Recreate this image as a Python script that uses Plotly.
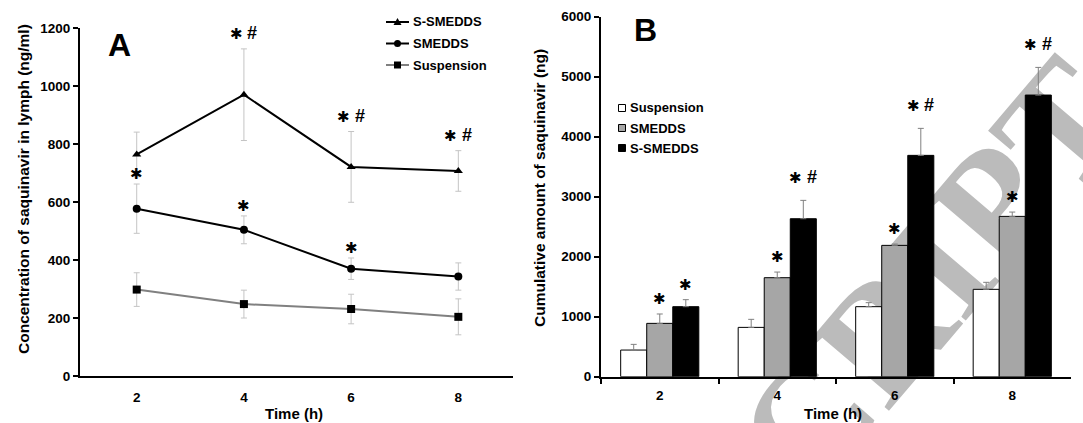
import plotly.graph_objects as go

W, H = 1083, 423
FONT = "Arial, Liberation Sans, sans-serif"

# ---- data -------------------------------------------------------------
times = [2, 4, 6, 8]
time_labels = ["2", "4", "6", "8"]

# Panel A: saquinavir concentration in lymph (ng/ml), mean and SD
conc_s_smedds = [764, 970, 721, 707]
conc_s_smedds_sd = [77, 158, 122, 70]
conc_smedds = [577, 504, 370, 343]
conc_smedds_sd = [85, 48, 37, 47]
conc_susp = [298, 248, 231, 204]
conc_susp_sd = [58, 48, 51, 62]

# Panel B: cumulative amount of saquinavir (ng), mean and SD
cum_susp = [444, 822, 1167, 1456]
cum_susp_sd = [95, 134, 67, 117]
cum_smedds = [889, 1650, 2189, 2672]
cum_smedds_sd = [156, 94, 22, 72]
cum_s_smedds = [1167, 2633, 3689, 4694]
cum_s_smedds_sd = [117, 306, 450, 461]

# significance marks per time point
sig_a_smedds = ["*", "*", "*", ""]
sig_a_s_smedds = ["", "*#", "*#", "*#"]
sig_b_smedds = ["*", "*", "*", "*"]
sig_b_s_smedds = ["*", "*#", "*#", "*#"]

series_names = ["Suspension", "SMEDDS", "S-SMEDDS"]

# ---- geometry helpers ---------------------------------------------------
def fx(x):
    return x / W


def fy(y):
    return 1 - y / H


BARGAP = 0.335
bar_w = (1 - BARGAP) / 3  # width of one bar in category units

fig = go.Figure()

# ---- panel A: lines with SD error bars ------------------------------------
line_specs = [
    (conc_susp, conc_susp_sd, "#808080", "square", 8),
    (conc_smedds, conc_smedds_sd, "black", "circle", 8),
    (conc_s_smedds, conc_s_smedds_sd, "black", "triangle-up", 8),
]
for (vals, sd, col, sym, size), name in zip(line_specs, series_names):
    fig.add_trace(go.Scatter(
        x=times, y=vals, name=name, mode="lines+markers",
        line=dict(color=col, width=2),
        marker=dict(symbol=sym, size=size, color="black"),
        error_y=dict(type="data", array=sd, color="#c4c4c4", thickness=1, width=3),
        xaxis="x", yaxis="y", showlegend=False,
    ))

# ---- panel B: grouped bars, upper SD only -----------------------------------
bar_specs = [
    (cum_susp, cum_susp_sd, "white"),
    (cum_smedds, cum_smedds_sd, "#a6a6a6"),
    (cum_s_smedds, cum_s_smedds_sd, "black"),
]
for (vals, sd, col), name in zip(bar_specs, series_names):
    fig.add_trace(go.Bar(
        x=time_labels, y=vals, name=name,
        marker=dict(color=col, line=dict(color="black", width=1)),
        error_y=dict(type="data", symmetric=False, array=sd, arrayminus=[0] * len(sd),
                     color="#808080", thickness=1, width=3),
        xaxis="x2", yaxis="y2", showlegend=False,
    ))

annotations = []
shapes = []


def add_mark(xref, yref, x, y, mark, yshift):
    """Draw an asterisk, optionally followed by '#', above a point."""
    if not mark:
        return
    star_shift = -7.5 if "#" in mark else 0
    annotations.append(dict(
        xref=xref, yref=yref, x=x, y=y, text="✱", showarrow=False,
        xanchor="center", yanchor="middle", xshift=star_shift, yshift=yshift,
        font=dict(family="DejaVu Sans", size=15, color="black"),
    ))
    if "#" in mark:
        annotations.append(dict(
            xref=xref, yref=yref, x=x, y=y, text="#", showarrow=False,
            xanchor="center", yanchor="middle", xshift=8.5, yshift=yshift + 1,
            font=dict(family=FONT, size=18, color="black", weight=700),
        ))


for t, m, s, mark in zip(times, conc_smedds, conc_smedds_sd, sig_a_smedds):
    add_mark("x", "y", t, m + s, mark, 10)
for t, m, s, mark in zip(times, conc_s_smedds, conc_s_smedds_sd, sig_a_s_smedds):
    add_mark("x", "y", t, m + s, mark, 15)
for i, (m, s, mark) in enumerate(zip(cum_smedds, cum_smedds_sd, sig_b_smedds)):
    add_mark("x2", "y2", i, m + s, mark, 15 if mark == "*" else 22)
for i, (m, s, mark) in enumerate(zip(cum_s_smedds, cum_s_smedds_sd, sig_b_s_smedds)):
    add_mark("x2", "y2", i + bar_w, m + s, mark, 15 if mark == "*" else 22)

bold = dict(family=FONT, color="black", weight=700)


def paper_text(x, y, text, size, angle=0, xanchor="center"):
    annotations.append(dict(xref="paper", yref="paper", x=fx(x), y=fy(y), text=text,
                            textangle=angle, showarrow=False, xanchor=xanchor,
                            yanchor="middle", font=dict(bold, size=size)))


# panel letters
paper_text(119, 45, "A", 32)
paper_text(645, 30, "B", 32)

# axis titles
paper_text(23, 189, "Concentration of saquinavir in lymph (ng/ml)", 15.5, -90)
paper_text(539, 188, "Cumulative amount of saquinavir (ng)", 15.5, -90)
paper_text(294, 413, "Time (h)", 15)
paper_text(833, 413, "Time (h)", 15)

# legend for panel A (line + marker samples)
leg_a_rows = [(22, "S-SMEDDS", "black", "tri"), (43.5, "SMEDDS", "black", "circ"),
              (65, "Suspension", "#808080", "sq")]
for yy, label, col, kind in leg_a_rows:
    shapes.append(dict(type="line", xref="paper", yref="paper", x0=fx(386), x1=fx(409),
                       y0=fy(yy), y1=fy(yy), line=dict(color=col, width=2)))
    cx = 397.5
    if kind == "tri":
        path = f"M {fx(cx-4)},{fy(yy+3)} L {fx(cx+4)},{fy(yy+3)} L {fx(cx)},{fy(yy-4)} Z"
        shapes.append(dict(type="path", xref="paper", yref="paper", path=path,
                           fillcolor="black", line=dict(color="black", width=0)))
    elif kind == "circ":
        shapes.append(dict(type="circle", xref="paper", yref="paper", x0=fx(cx-3.5), x1=fx(cx+3.5),
                           y0=fy(yy+3.5), y1=fy(yy-3.5), fillcolor="black",
                           line=dict(color="black", width=0)))
    else:
        shapes.append(dict(type="rect", xref="paper", yref="paper", x0=fx(cx-3.5), x1=fx(cx+3.5),
                           y0=fy(yy+3.5), y1=fy(yy-3.5), fillcolor="black",
                           line=dict(color="black", width=0)))
    paper_text(411, yy, label, 13, xanchor="left")

# legend for panel B (filled squares)
leg_b_rows = [(108, "Suspension", "white"), (128, "SMEDDS", "#a6a6a6"), (148, "S-SMEDDS", "black")]
for yy, label, col in leg_b_rows:
    shapes.append(dict(type="rect", xref="paper", yref="paper", x0=fx(618.5), x1=fx(625.5),
                       y0=fy(yy + 3.5), y1=fy(yy - 3.5), fillcolor=col,
                       line=dict(color="black", width=1)))
    paper_text(628, yy, label, 13, xanchor="left")

# diagonal manuscript watermark, behind the data
ux, uy = 0.648, -0.762
ex, ey = 1082, 72
shapes.append(dict(
    type="line", xref="paper", yref="paper", layer="below",
    x0=fx(ex - 1400 * ux), y0=fy(ey - 1400 * uy), x1=fx(ex), y1=fy(ey),
    line=dict(color="rgba(0,0,0,0)", width=1),
    label=dict(text="ACCEPTED MANUSCRIPT", textposition="end", yanchor="middle",
               font=dict(family="Liberation Serif", size=162, color="#bbbbbb", weight=700)),
))

tickfont = dict(family=FONT, size=13.5, color="black", weight=700)
axis_common = dict(showline=True, linecolor="black", linewidth=2, showgrid=False,
                   zeroline=False, tickfont=tickfont, tickcolor="black", tickwidth=1.5,
                   automargin=False)

fig.update_layout(
    width=W, height=H, autosize=False,
    margin=dict(l=0, r=0, t=0, b=0, pad=0, autoexpand=False),
    paper_bgcolor="white", plot_bgcolor="rgba(0,0,0,0)",
    barmode="group", bargap=BARGAP, bargroupgap=0,
    xaxis=dict(axis_common, domain=[fx(80), fx(513)], range=[0.942, 9.02],
               tickvals=times, ticktext=time_labels, ticks="", ticklabelstandoff=8, anchor="y"),
    yaxis=dict(axis_common, domain=[fy(376), fy(28)], range=[0, 1200], dtick=200,
               ticks="outside", ticklen=5, anchor="x"),
    xaxis2=dict(axis_common, domain=[fx(601), fx(1071)], type="category",
                categoryorder="array", categoryarray=time_labels, range=[-0.5, 3.5],
                ticks="outside", tickson="boundaries", ticklen=5, ticklabelstandoff=5,
                anchor="y2"),
    yaxis2=dict(axis_common, domain=[fy(376.7), fy(16.7)], range=[0, 6000], dtick=1000,
                ticks="outside", ticklen=5, anchor="x2"),
    annotations=annotations,
    shapes=shapes,
    showlegend=False,
)

fig.write_html(
    "out.html",
    post_script="document.body.style.margin='0';document.body.style.overflow='hidden';",
)
